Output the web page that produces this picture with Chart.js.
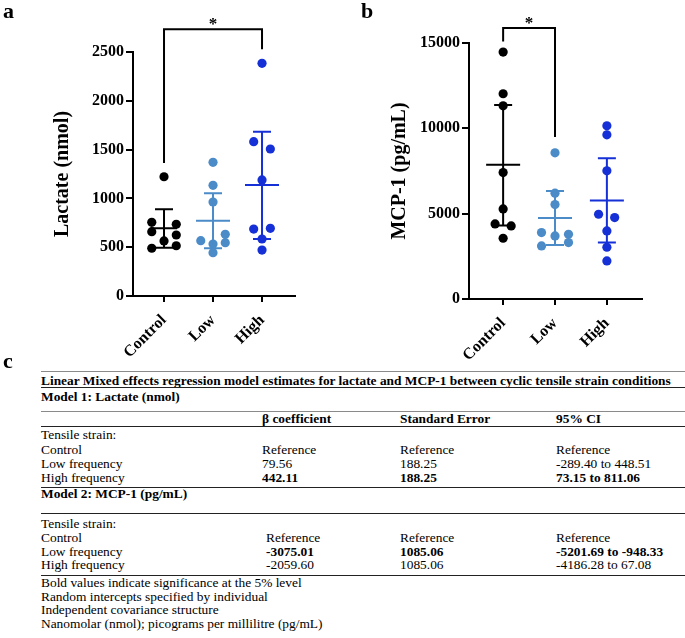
<!DOCTYPE html>
<html>
<head>
<meta charset="utf-8">
<script src="https://cdn.jsdelivr.net/npm/chart.js@4.4.1/dist/chart.umd.min.js"></script>
<style>
  body { margin: 0; background: #fff; }
  #page { position: relative; width: 685px; height: 638px; overflow: hidden; font-family: "Liberation Serif", serif; color: #000; }
  canvas { position: absolute; top: 0; }
  .lbl { position: absolute; font-weight: bold; font-size: 22px; line-height: 22px; }
  .t { position: absolute; font-size: 13.4px; line-height: 14px; white-space: nowrap; }
  .b { font-weight: bold; }
  .rule { position: absolute; left: 41px; width: 644px; height: 1px; background: #222; }
  .rule.grey { background: #8a8a8a; }
</style>
</head>
<body>
<div id="page">
  <canvas id="chartA" width="340" height="360" style="left:0"></canvas>
  <canvas id="chartB" width="345" height="360" style="left:340px"></canvas>
  <div class="lbl" style="left:3px;top:0px">a</div>
  <div class="lbl" style="left:361px;top:0px">b</div>
  <div class="lbl" style="left:3px;top:350px">c</div>
  <div id="table"></div>
</div>
<script>
//---------------DATA-------------
let groups = ["Control", "Low", "High"];
let colors = ["#000000", "#4b8bc8", "#1530d6"];

// panel a : lactate (nmol)
let lactateControl = [1222, 755, 735, 659, 625, 564, 489, 515];
let lactateLow = [1370, 1134, 963, 567, 632, 546, 533, 444];
let lactateHigh = [2384, 1581, 1506, 1189, 686, 693, 584, 471];
let lactateControlJitter = [0, -0.25, 0.25, -0.25, 0.25, 0, -0.25, 0.25];
let lactateLowJitter = [0, 0, 0, -0.25, 0.25, 0.25, 0, 0];
let lactateHighJitter = [0, -0.17, 0.17, 0, -0.17, 0.17, 0, 0];
let lactateMean = [693, 772, 1137];
let lactateUpper = [888, 1052, 1683];
let lactateLower = [495, 489, 584];
let lactateTicks = [0, 500, 1000, 1500, 2000, 2500];
let lactateBracket = [1363, 2733, 2528]; // left foot, top, right foot
let lactateStar = 2810;

// panel b : MCP-1 (pg/mL)
let mcpControl = [14470, 12025, 11321, 7409, 5279, 4400, 4282, 3560];
let mcpLow = [8564, 6200, 5533, 3891, 3794, 3696, 3109, 3304];
let mcpHigh = [10148, 9620, 7508, 4967, 4772, 3989, 3032, 2229];
let mcpControlJitter = [0, 0, 0, 0, 0, -0.155, 0.155, 0];
let mcpLowJitter = [0, 0, 0, -0.26, 0.26, 0, -0.26, 0.26];
let mcpHighJitter = [0, 0, 0, -0.16, 0.15, 0, 0, 0];
let mcpMean = [7860, 4751, 5767];
let mcpUpper = [11360, 6335, 8253];
let mcpLower = [4300, 3168, 3304];
let mcpTicks = [0, 5000, 10000, 15000];
let mcpBracket = [15093, 15880, 9485];
let mcpStar = 16325;

//---------------PLUGIN: mean +/- error bars and the star-------------
let errorBars = {
  id: "errorBars",
  afterDatasetsDraw(chart, args, opts) {
    let ctx = chart.ctx, xs = chart.scales.x, ys = chart.scales.y;
    ctx.save();
    ctx.lineWidth = 2;
    for (let i = 0; i < groups.length; i++) {
      let x = xs.getPixelForValue(i + 1);
      let yM = ys.getPixelForValue(opts.mean[i]);
      let yU = ys.getPixelForValue(opts.upper[i]);
      let yL = ys.getPixelForValue(opts.lower[i]);
      ctx.strokeStyle = colors[i];
      ctx.beginPath();
      ctx.moveTo(x, yU); ctx.lineTo(x, yL);
      ctx.moveTo(x - 9, yU); ctx.lineTo(x + 9, yU);
      ctx.moveTo(x - 9, yL); ctx.lineTo(x + 9, yL);
      ctx.moveTo(x - opts.meanHalf[i], yM); ctx.lineTo(x + opts.meanHalf[i], yM);
      ctx.stroke();
    }
    ctx.fillStyle = "#000";
    ctx.font = "bold 17px 'Liberation Serif'";
    ctx.textAlign = "center";
    ctx.textBaseline = "middle";
    ctx.fillText("*", xs.getPixelForValue(opts.starX), ys.getPixelForValue(opts.starY) + 3);
    ctx.restore();
  }
};

function pts(values, jitter, group) {
  return values.map((v, i) => ({ x: group + jitter[i], y: v }));
}

function makeChart(id, cfg) {
  let font = { family: "'Liberation Serif'", weight: "bold", size: 16 };
  let sets = cfg.series.map((s, i) => ({
    type: "scatter",
    data: pts(s.values, s.jitter, i + 1),
    backgroundColor: colors[i],
    borderWidth: 0,
    pointRadius: 4.6
  }));
  let br = cfg.bracket;
  sets.push({
    type: "line",
    data: [
      { x: cfg.bracketFrom, y: br[0] },
      { x: cfg.bracketFrom, y: br[1] },
      { x: cfg.bracketTo, y: br[1] },
      { x: cfg.bracketTo, y: br[2] }
    ],
    borderColor: "#000",
    borderWidth: 2,
    pointRadius: 0,
    fill: false,
    tension: 0,
    clip: false
  });
  return new Chart(document.getElementById(id), {
    type: "scatter",
    data: { datasets: sets },
    plugins: [errorBars],
    options: {
      responsive: false,
      animation: false,
      devicePixelRatio: 1,
      layout: { padding: cfg.padding },
      plugins: {
        legend: { display: false },
        tooltip: { enabled: false },
        errorBars: {
          mean: cfg.mean, upper: cfg.upper, lower: cfg.lower,
          meanHalf: cfg.meanHalf, starX: (cfg.bracketFrom + cfg.bracketTo) / 2, starY: cfg.star
        }
      },
      scales: {
        x: {
          type: "linear",
          min: cfg.xMin,
          max: cfg.xMax,
          afterBuildTicks: (s) => { s.ticks = groups.map((g, i) => ({ value: i + 1 })); },
          afterFit: (s) => { s.height = cfg.xHeight; },
          grid: { drawOnChartArea: false, color: "#000", lineWidth: 2, tickLength: 6 },
          border: { display: true, color: "#000", width: 2 },
          ticks: {
            autoSkip: false,
            minRotation: 45,
            maxRotation: 45,
            padding: 9,
            color: "#000",
            font: font,
            callback: (v) => groups[v - 1]
          }
        },
        y: {
          min: 0,
          max: cfg.ticks[cfg.ticks.length - 1],
          afterBuildTicks: (s) => { s.ticks = cfg.ticks.map((v) => ({ value: v })); },
          afterFit: (s) => { s.width = cfg.yWidth; },
          grid: { drawOnChartArea: false, color: "#000", lineWidth: 2, tickLength: 7 },
          border: { display: true, color: "#000", width: 2 },
          ticks: { padding: 2, color: "#000", font: font, callback: (v) => String(v) },
          title: {
            display: true,
            text: cfg.yTitle,
            color: "#000",
            padding: 0,
            font: { family: "'Liberation Serif'", weight: "bold", size: 20 }
          }
        }
      }
    }
  });
}

makeChart("chartA", {
  series: [
    { values: lactateControl, jitter: lactateControlJitter },
    { values: lactateLow, jitter: lactateLowJitter },
    { values: lactateHigh, jitter: lactateHighJitter }
  ],
  mean: lactateMean, upper: lactateUpper, lower: lactateLower, meanHalf: [13, 17, 17],
  ticks: lactateTicks, yTitle: "Lactate (nmol)",
  bracket: lactateBracket, bracketFrom: 1, bracketTo: 3, star: lactateStar,
  xMin: 0.367, xMax: 3.673,
  padding: { left: 51, right: 45, top: 52, bottom: 0 }, yWidth: 82, xHeight: 64
});

makeChart("chartB", {
  series: [
    { values: mcpControl, jitter: mcpControlJitter },
    { values: mcpLow, jitter: mcpLowJitter },
    { values: mcpHigh, jitter: mcpHighJitter }
  ],
  mean: mcpMean, upper: mcpUpper, lower: mcpLower, meanHalf: [17, 17, 17],
  ticks: mcpTicks, yTitle: "MCP-1 (pg/mL)",
  bracket: mcpBracket, bracketFrom: 1, bracketTo: 2, star: mcpStar,
  xMin: 0.342, xMax: 3.677,
  padding: { left: 48, right: 43, top: 43, bottom: 0 }, yWidth: 81, xHeight: 61
});

//---------------TABLE c-------------
let tableTitle = "Linear Mixed effects regression model estimates for lactate and MCP-1 between cyclic tensile strain conditions";
let tableHeader = ["", "β coefficient", "Standard Error", "95% CI"];
let model1Title = "Model 1: Lactate (nmol)";
let model1Rows = [
  ["Tensile strain:", "", "", ""],
  ["Control", "Reference", "Reference", "Reference"],
  ["Low frequency", "79.56", "188.25", "-289.40 to 448.51"],
  ["High frequency", "*442.11", "*188.25", "*73.15 to 811.06"]
];
let model2Title = "Model 2: MCP-1 (pg/mL)";
let model2Rows = [
  ["Tensile strain:", "", "", ""],
  ["Control", "Reference", "Reference", "Reference"],
  ["Low frequency", "*-3075.01", "*1085.06", "*-5201.69 to -948.33"],
  ["High frequency", "-2059.60", "1085.06", "-4186.28 to 67.08"]
];
let tableNotes = [
  "Bold values indicate significance at the 5% level",
  "Random intercepts specified by individual",
  "Independent covariance structure",
  "Nanomolar (nmol); picograms per millilitre (pg/mL)"
];

let table = document.getElementById("table");
function txt(s, x, yc, bold) {
  if (s.startsWith("*")) { s = s.slice(1); bold = true; }
  table.innerHTML += `<div class="t${bold ? " b" : ""}" style="left:${x}px;top:${yc - 7}px">${s}</div>`;
}
function rule(y, grey) {
  table.innerHTML += `<div class="rule${grey ? " grey" : ""}" style="top:${y}px"></div>`;
}
function rows(list, cols, ys) {
  list.forEach((r, i) => r.forEach((c, j) => { if (c) txt(c, cols[j], ys[i], false); }));
}

rule(371, true);
txt(tableTitle, 41, 381, true);
rule(387, false);
txt(model1Title, 41, 397, true);
rule(411, true);
tableHeader.forEach((h, j) => { if (h) txt(h, [41, 262, 400, 556][j], 419, true); });
rule(426, false);
rows(model1Rows, [41, 262, 400, 556], [435, 450, 464, 478]);
rule(487, false);
txt(model2Title, 41, 494, true);
rule(513, false);
rows(model2Rows, [41, 266, 400, 556], [524, 538, 552, 565]);
rule(575, false);
tableNotes.forEach((n, i) => txt(n, 41, [583, 597, 610, 624][i], false));
</script>
</body>
</html>
